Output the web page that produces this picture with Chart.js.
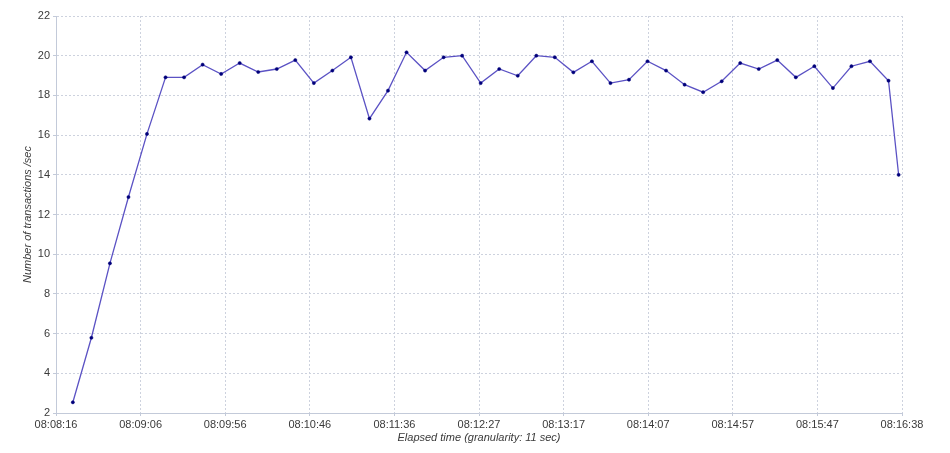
<!DOCTYPE html>
<html>
<head>
<meta charset="utf-8">
<script src="https://cdn.jsdelivr.net/npm/chart.js@4"></script>
<style>
  html, body { margin: 0; padding: 0; background: #fff; }
  canvas { display: block; }
</style>
</head>
<body>
<canvas id="tps" width="950" height="453"></canvas>
<script>
// ─── DATA ───────────────────────────────
// seconds since 08:08:16
const elapsed = [10, 21, 32, 43, 54, 65, 76, 87, 98, 109, 120, 131, 142, 153, 164, 175,
  186, 197, 208, 219, 230, 241, 252, 263, 274, 285, 296, 307, 318, 329, 340, 351,
  362, 373, 384, 395, 406, 417, 428, 439, 450, 461, 472, 483, 494, 500];

const tps = [2.54, 5.79, 9.54, 12.88, 16.06, 18.91, 18.91, 19.55, 19.08, 19.63, 19.18, 19.33,
  19.78, 18.62, 19.25, 19.92, 16.83, 18.24, 20.17, 19.25, 19.92, 20.0, 18.62, 19.33,
  18.99, 20.0, 19.92, 19.16, 19.72, 18.62, 18.79, 19.72, 19.25, 18.54, 18.16, 18.71,
  19.63, 19.33, 19.78, 18.91, 19.47, 18.37, 19.47, 19.72, 18.74, 14.0];

const timeLabels = ['08:08:16', '08:09:06', '08:09:56', '08:10:46', '08:11:36', '08:12:27',
  '08:13:17', '08:14:07', '08:14:57', '08:15:47', '08:16:38'];

const xMax = 502;   // 08:16:38
const yMin = 2, yMax = 22;

// ─── STYLE ──────────────────────────────
const FONT = 'Arial, "Liberation Sans", sans-serif';
const gridColor = '#cdd2de';
const axisColor = '#c3cad9';
const textColor = '#3a3a3a';

const ctx = document.getElementById('tps').getContext('2d');

new Chart(ctx, {
  type: 'line',
  data: {
    datasets: [{
      label: 'Transactions per second',
      data: elapsed.map((t, i) => ({ x: t, y: tps[i] })),
      borderColor: '#5b52c4',
      borderWidth: 1.3,
      pointRadius: 1.6,
      pointBackgroundColor: '#00007a',
      pointBorderColor: '#00007a',
      pointBorderWidth: 0.5,
      tension: 0,
      fill: false
    }]
  },
  options: {
    responsive: false,
    animation: false,
    devicePixelRatio: 1,
    layout: { padding: { top: 16, right: 48, bottom: 0, left: 0 } },
    plugins: {
      legend: { display: false },
      tooltip: { enabled: false }
    },
    scales: {
      x: {
        type: 'linear',
        min: 0,
        max: xMax,
        afterFit: s => { s.height = 40; },
        afterBuildTicks: s => {
          s.ticks = timeLabels.map((_, i) => ({ value: i * xMax / (timeLabels.length - 1) }));
        },
        grid: {
          color: gridColor,
          lineWidth: 1,
          tickLength: 3,
          tickColor: axisColor
        },
        border: { display: true, color: axisColor, width: 1, dash: [2, 2] },
        ticks: {
          autoSkip: false,
          maxRotation: 0,
          padding: 2,
          color: textColor,
          font: { family: FONT, size: 11 },
          callback: (v, i) => timeLabels[i]
        },
        title: {
          display: true,
          text: 'Elapsed time (granularity: 11 sec)',
          color: textColor,
          font: { family: FONT, size: 11, style: 'italic' },
          padding: { top: 0, bottom: 8 }
        }
      },
      y: {
        min: yMin,
        max: yMax,
        afterFit: s => { s.width = 56; },
        ticks: {
          stepSize: 2,
          padding: 3,
          color: textColor,
          font: { family: FONT, size: 11 }
        },
        grid: {
          color: gridColor,
          lineWidth: 1,
          tickLength: 3,
          tickColor: axisColor
        },
        border: { display: true, color: axisColor, width: 1, dash: [2, 2] },
        title: {
          display: true,
          text: 'Number of transactions /sec',
          color: textColor,
          font: { family: FONT, size: 11, style: 'italic' },
          padding: { top: 21, bottom: 0 }
        }
      }
    }
  }
});
</script>
</body>
</html>
